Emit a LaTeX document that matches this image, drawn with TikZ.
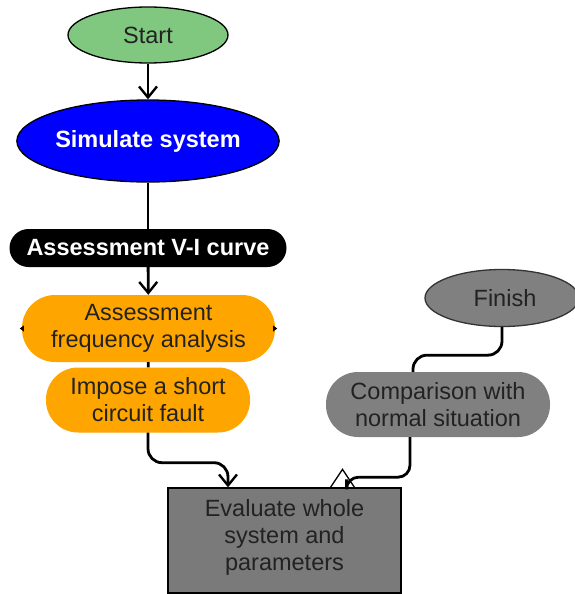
\documentclass[tikz,border=0pt]{standalone}
\usepackage{fontspec}
\setmainfont{Liberation Sans}
\usetikzlibrary{shapes.geometric,arrows.meta}
\definecolor{startgreen}{HTML}{80C880}
\definecolor{simblue}{HTML}{0000FF}
\definecolor{boxorange}{HTML}{FFA500}
\definecolor{boxgray}{HTML}{808080}
\definecolor{evalgray}{HTML}{7A7A7A}
\definecolor{txtdark}{HTML}{222222}
\begin{document}
\begin{tikzpicture}[x=1pt,y=-1pt,
  every node/.style={font=\fontsize{23.5}{27}\selectfont, align=center, inner sep=0pt},
  oval/.style={ellipse, draw=black, line width=1.3pt},
  conn/.style={line width=2.8pt, black},
  barb/.style={-{Straight Barb[length=11pt,width=18pt,line width=2.4pt]}}]
\useasboundingbox (0,0) rectangle (575,594);
% nodes
\node[oval, fill=startgreen, minimum width=160pt, minimum height=56pt, text=txtdark] (start) at (148,35) {Start};
\node[oval, fill=simblue, minimum width=240pt, minimum height=82pt, text=white, font=\fontsize{23.5}{27}\selectfont\bfseries] (sim) at (148,141) {Simulate system};
\node[fill=black, rounded corners=19pt, minimum width=277pt, minimum height=38pt, text=white, font=\fontsize{23.5}{27}\selectfont\bfseries] (vi) at (148,248) {Assessment V-I curve};
\node[fill=boxorange, rounded corners=33pt, minimum width=253pt, minimum height=67pt, text=txtdark] (freq) at (148.5,328.5) {Assessment\\frequency analysis};
\node[fill=boxorange, rounded corners=32pt, minimum width=204pt, minimum height=65pt, text=txtdark] (fault) at (148,400) {Impose a short\\circuit fault};
\node[draw=black, line width=1.3pt, fill=evalgray, minimum width=233pt, minimum height=105pt] (eval) at (284.5,540.5) {};
\node[text=txtdark] (evaltxt) at (284.5,537) {Evaluate whole\\system and\\parameters};
\node[ellipse, draw=black!80, line width=1.3pt, fill=boxgray, minimum width=154pt, minimum height=57pt] (finish) at (502,298) {};
\node[text=txtdark] (finishtxt) at (505,298) {Finish};
\node[fill=boxgray, rounded corners=32pt, minimum width=224pt, minimum height=65pt, text=txtdark] (comp) at (438,404.5) {Comparison with\\normal situation};
% coordinates
\coordinate (e1) at ([xshift=-56.5pt]eval.north);
\coordinate (e2) at ([xshift=58pt]eval.north);
\coordinate (f1) at ([xshift=-25pt]comp.north);
\coordinate (c1) at ([xshift=-28pt]comp.south);
% connectors
\draw[conn, barb] (start) -- (sim);
\draw[conn] (sim) -- (vi);
\draw[conn, barb] (vi) -- (freq);
\draw[conn] (freq) -- (fault);
\draw[conn, barb, rounded corners=14pt] (fault.south) -- ++(0,30) -| (e1);
\draw[conn, rounded corners=14pt] (finish.south) -- ++(0,28) -| (f1);
\draw[conn, rounded corners=12pt] (c1) -- ++(0,40) -| ([xshift=4pt,yshift=8pt]e2);
\draw[line width=1.3pt, black, line join=miter] ([xshift=-12pt]e2) -- ([yshift=18pt]e2) -- ([xshift=12pt]e2);
% small side markers
\fill[black] ([xshift=-2pt]freq.west) -- ++(4,-3) -- ++(0,6) -- cycle;
\fill[black] ([xshift=2pt]freq.east) -- ++(-4,-3) -- ++(0,6) -- cycle;
\end{tikzpicture}
\end{document}
